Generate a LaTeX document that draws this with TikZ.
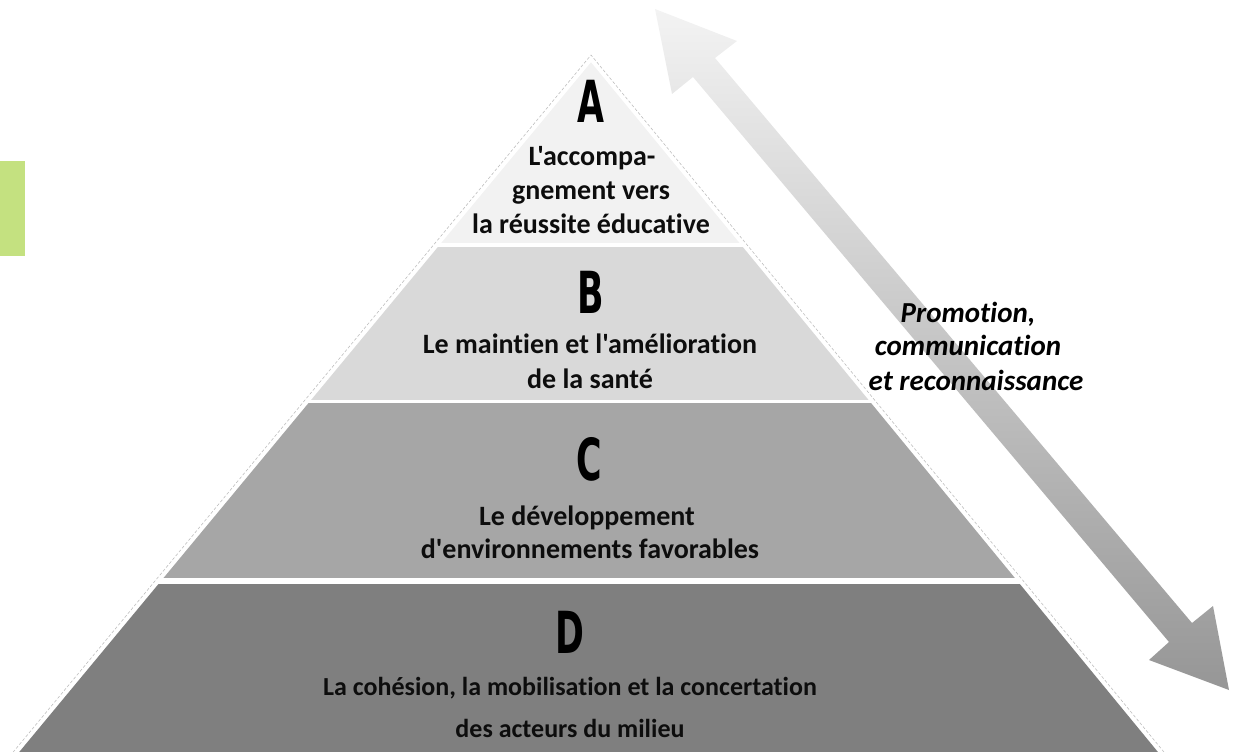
\documentclass[tikz,border=0pt]{standalone}
\usepackage{fontspec}
\setmainfont{Carlito}[Ligatures={TeXOff,CommonOff}]
\newfontfamily\letterfont{DejaVu Sans}[FakeStretch=0.6]
\definecolor{tierA}{RGB}{242,242,242}
\definecolor{tierB}{RGB}{217,217,217}
\definecolor{tierC}{RGB}{166,166,166}
\definecolor{tierD}{RGB}{127,127,127}
\definecolor{arrowTop}{RGB}{243,243,243}
\definecolor{arrowBot}{RGB}{150,150,150}
\definecolor{edgeGray}{RGB}{190,190,190}
\definecolor{greenBar}{RGB}{196,225,128}
\definecolor{txtcol}{RGB}{13,13,13}
\begin{document}
\begin{tikzpicture}[x=1pt,y=-1pt,
  txt/.style={font=\fontsize{28}{33}\selectfont\bfseries, text=txtcol, anchor=base, inner sep=0pt},
  txtsmall/.style={txt, font=\fontsize{26}{33}\selectfont\bfseries},
  letter/.style={font=\fontsize{58}{58}\selectfont\letterfont\bfseries, text=black, anchor=base, inner sep=0pt},
  promo/.style={font=\fontsize{29}{33}\selectfont\bfseries\itshape, text=black, anchor=base, inner sep=0pt},
  outline/.style={draw=edgeGray, line width=0.6pt, dash pattern=on 3pt off 2pt}]
\useasboundingbox (0,0) rectangle (1237,752);
\clip (0,0) rectangle (1237,752);
% green bar
\fill[greenBar] (0,161) rectangle (25,256);
% double arrow
\coordinate (tipT) at (655,9);
\coordinate (tipB) at (1229,690);
\shade[top color=arrowTop, bottom color=arrowBot]
  (tipT) -- (737,41) -- (715,58) -- (1192,623) -- (1213,606) -- (tipB)
  -- (1149,660) -- (1169,642) -- (693,77) -- (672,94) -- cycle;
% pyramid outline
\draw[outline] (6.6,760) -- (591,55) -- (1170.5,760);
% tiers
\begin{scope}
  \clip (591,62.3) -- (12.6,760) -- (1164.5,760) -- cycle;
  \fill[tierA] (0,0) rectangle (1237,243);
  \fill[tierB] (0,247) rectangle (1237,400);
  \fill[tierC] (0,403) rectangle (1237,578);
  \fill[tierD] (0,584) rectangle (1237,760);
\end{scope}
% texts
\node[letter] (LA) at (591,122) {A};
\node[txt] (A1) at (592,165) {L'accompa-};
\node[txt] (A2) at (591,199) {gnement vers};
\node[txt] (A3) at (591,233) {la réussite éducative};
\node[letter] (LB) at (591,313) {B};
\node[txt] (B1) at (590,353) {Le maintien et l'amélioration};
\node[txt] (B2) at (590,388) {de la santé};
\node[letter] (LC) at (589,480) {C};
\node[txt] (C1) at (587,525) {Le développement};
\node[txt] (C2) at (590,558) {d'environnements favorables};
\node[letter] (LD) at (570,653) {D};
\node[txtsmall] (D1) at (570,695) {La cohésion, la mobilisation et la concertation};
\node[txtsmall] (D2) at (570,737) {des acteurs du milieu};
\node[promo] (P1) at (968,322) {Promotion,};
\node[promo] (P2) at (968,355) {communication};
\node[promo] (P3) at (976,390) {et reconnaissance};
\end{tikzpicture}
\end{document}
